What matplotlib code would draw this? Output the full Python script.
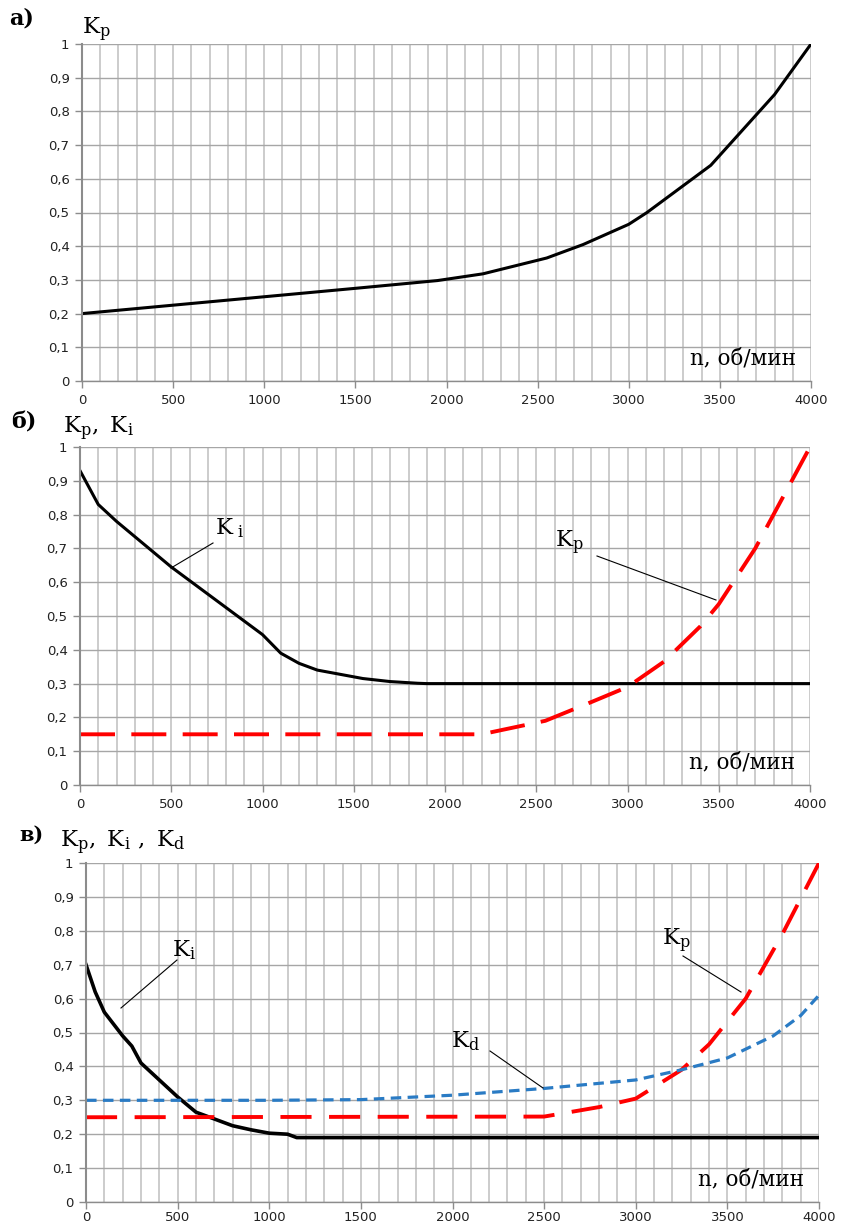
import matplotlib
matplotlib.use("Agg")
import matplotlib.pyplot as plt
from matplotlib.ticker import MultipleLocator, FuncFormatter

plt.rcParams['mathtext.fontset'] = 'dejavuserif'

# ---- data -------------------------------------------------------------
# (а) proportional gain vs speed
a_n = [0, 500, 1000, 1500, 1950, 2200, 2550, 2750, 3000, 3100, 3450, 3800, 4000]
a_kp = [0.20, 0.225, 0.25, 0.275, 0.298, 0.318, 0.365, 0.405, 0.465, 0.50, 0.64, 0.85, 1.0]

# (б) integral and proportional gains
b_ki_n = [0, 100, 200, 300, 400, 500, 600, 700, 800, 900, 1000, 1100, 1200, 1300,
          1400, 1550, 1700, 1850, 1900, 4000]
b_ki = [0.93, 0.83, 0.78, 0.735, 0.69, 0.645, 0.605, 0.565, 0.525, 0.485, 0.445,
        0.39, 0.36, 0.34, 0.33, 0.315, 0.306, 0.301, 0.30, 0.30]
b_kp_n = [0, 2200, 2550, 2800, 3000, 3200, 3400, 3500, 3700, 3850, 4000]
b_kp = [0.15, 0.15, 0.19, 0.245, 0.29, 0.365, 0.47, 0.535, 0.70, 0.85, 1.0]

# (в) integral, proportional and derivative gains
c_ki_n = [0, 50, 100, 200, 250, 300, 400, 500, 600, 700, 800, 900, 1000, 1100,
          1150, 4000]
c_ki = [0.70, 0.62, 0.56, 0.49, 0.46, 0.41, 0.36, 0.31, 0.265, 0.245, 0.225,
        0.213, 0.203, 0.20, 0.19, 0.19]
c_kp_n = [0, 2500, 2800, 3000, 3250, 3400, 3600, 3800, 4000]
c_kp = [0.25, 0.252, 0.28, 0.305, 0.39, 0.465, 0.60, 0.79, 1.0]
c_kd_n = [0, 1000, 1500, 2000, 2500, 3000, 3250, 3500, 3750, 3900, 4000]
c_kd = [0.30, 0.30, 0.302, 0.315, 0.335, 0.36, 0.39, 0.425, 0.49, 0.55, 0.61]

x_ticks = [0, 500, 1000, 1500, 2000, 2500, 3000, 3500, 4000]
y_ticks = [0, 0.1, 0.2, 0.3, 0.4, 0.5, 0.6, 0.7, 0.8, 0.9, 1.0]

W, H = 841, 1224
fig = plt.figure(figsize=(W / 100, H / 100), dpi=100)


def box(l, t, r, b):
    return [l / W, 1 - b / H, (r - l) / W, (b - t) / H]


def ylab(v, _):
    if abs(v) < 1e-9:
        return "0"
    if abs(v - 1) < 1e-9:
        return "1"
    return ("%.1f" % v).replace(".", ",")


def setup(ax, xpad=4):
    ax.set_xlim(0, 4000)
    ax.set_ylim(0, 1)
    ax.set_xticks(x_ticks)
    ax.xaxis.set_minor_locator(MultipleLocator(100))
    ax.set_yticks(y_ticks)
    ax.yaxis.set_major_formatter(FuncFormatter(ylab))
    ax.grid(which='minor', axis='x', color='#c8c8c8', lw=1.3)
    ax.grid(which='major', axis='x', color='#c8c8c8', lw=1.3)
    ax.grid(which='major', axis='y', color='#a6a6a6', lw=1.0)
    ax.set_axisbelow(True)
    for s in ('top', 'right'):
        ax.spines[s].set_visible(False)
    ax.spines['left'].set_color('#8c8c8c')
    ax.spines['bottom'].set_color('#8c8c8c')
    ax.spines['left'].set_linewidth(1.5)
    ax.spines['bottom'].set_linewidth(1.0)
    ax.tick_params(which='major', length=5, width=1.0, color='#8c8c8c',
                   labelsize=9.5, labelcolor='#222222', pad=4)
    ax.tick_params(axis='x', which='major', pad=xpad)
    ax.tick_params(which='minor', length=0)
    for lab in ax.get_xticklabels() + ax.get_yticklabels():
        lab.set_fontfamily('DejaVu Sans')
    ax.text(0.98, 0.035, "n, об/мин", transform=ax.transAxes, ha='right',
            va='bottom', fontsize=15.5, family='DejaVu Serif')


blue_dash = dict(color='#2a7bc4', lw=2.3, dashes=(3.3, 2.0))
black = dict(color='black', lw=2.2)
ptr = dict(color='black', lw=0.8)

# ---- panel а ----
ax1 = fig.add_axes(box(82, 44, 811, 381))
setup(ax1)
ax1.plot(a_n, a_kp, **black)

# ---- panel б ----
ax2 = fig.add_axes(box(80, 447, 810, 785))
setup(ax2)
ax2.plot(b_ki_n, b_ki, **black)
ax2.plot(b_kp_n, b_kp, color='#ff0000', lw=2.8, dashes=(9, 4.2))

# ---- panel в ----
ax3 = fig.add_axes(box(86, 863, 819, 1202))
setup(ax3, xpad=1.5)
ax3.plot(c_ki_n, c_ki, lw=2.6, color='black')
ax3.plot(c_kp_n, c_kp, color='#ff0000', lw=2.8, dashes=(8, 4.5))
ax3.plot(c_kd_n, c_kd, **blue_dash)

# ---- labels in figure pixels ----
def ftext(x, y, s, size, **kw):
    fig.text(x / W, 1 - y / H, s, fontsize=size, ha='left', va='center', **kw)


def fline(x0, y0, x1, y1):
    fig.add_artist(plt.Line2D([x0 / W, x1 / W], [1 - y0 / H, 1 - y1 / H], **ptr))


serif = dict(family='DejaVu Serif')
ftext(9, 19, "а)", 16, fontweight='bold', **serif)
ftext(11, 422, "б)", 16, fontweight='bold', **serif)
ftext(19, 835, "в)", 15, fontweight='bold', **serif)

ftext(82, 30, r"$\mathrm{K}_{\mathrm{p}}$", 16.5)
ftext(63, 429, r"$\mathrm{K}_{\mathrm{p}},\ \mathrm{K}_{\mathrm{i}}$", 16.5)
ftext(60, 843, r"$\mathrm{K}_{\mathrm{p}},\ \mathrm{K}_{\mathrm{i}}\ ,\ \mathrm{K}_{\mathrm{d}}$", 16.5)

ftext(215, 528, r"$\mathrm{K}_{\ \mathrm{i}}$", 16.5)
fline(213, 543, 171, 568)
ftext(555, 543, r"$\mathrm{K}_{\mathrm{p}}$", 16.5)
fline(597, 556, 716, 600)

ftext(172, 950, r"$\mathrm{K}_{\mathrm{i}}$", 16.5)
fline(177, 960, 121, 1008)
ftext(451, 1041, r"$\mathrm{K}_{\mathrm{d}}$", 16.5)
fline(490, 1051, 543, 1088)
ftext(662, 941, r"$\mathrm{K}_{\mathrm{p}}$", 16.5)
fline(683, 956, 741, 992)

fig.savefig("out.png", dpi=100)
